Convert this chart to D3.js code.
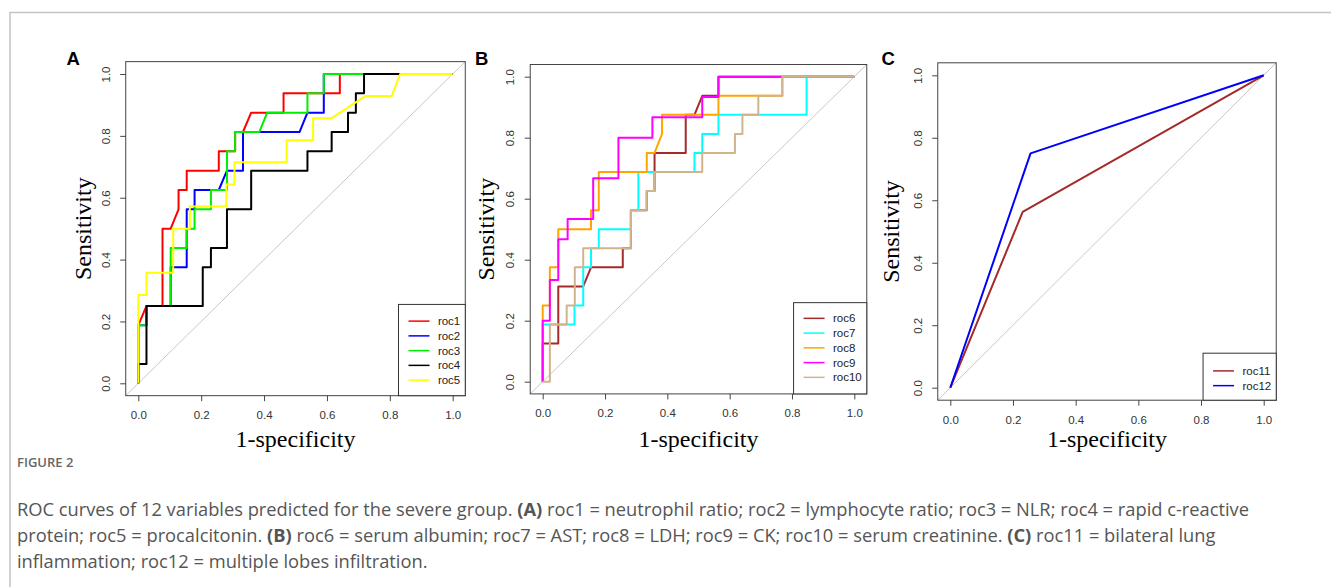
<!DOCTYPE html>
<html>
<head>
<meta charset="utf-8">
<script src="https://cdn.jsdelivr.net/npm/d3@7"></script>
<style>
body { margin: 0; background: #fff; }
</style>
</head>
<body>
<div id="figure"></div>
<script>
// ROC points, as [1-specificity, sensitivity]
const roc1 = [[0,0],[0,0.1875],[0.026,0.25],[0.077,0.25],[0.077,0.5],[0.103,0.5],[0.128,0.5625],[0.128,0.625],[0.154,0.625],[0.154,0.6875],[0.256,0.6875],[0.256,0.75],[0.308,0.75],[0.308,0.8125],[0.333,0.8125],[0.359,0.875],[0.462,0.875],[0.462,0.9375],[0.641,0.9375],[0.641,1],[1,1]];
const roc2 = [[0,0],[0,0.1875],[0.026,0.1875],[0.026,0.25],[0.103,0.25],[0.103,0.375],[0.154,0.375],[0.154,0.5625],[0.179,0.5625],[0.179,0.625],[0.256,0.625],[0.282,0.6875],[0.333,0.6875],[0.333,0.8125],[0.513,0.8125],[0.538,0.875],[0.59,0.875],[0.59,1],[1,1]];
const roc3 = [[0,0],[0,0.1875],[0.026,0.1875],[0.026,0.25],[0.103,0.25],[0.103,0.4375],[0.154,0.4375],[0.154,0.5],[0.179,0.5],[0.179,0.5625],[0.231,0.5625],[0.231,0.625],[0.282,0.625],[0.282,0.75],[0.308,0.75],[0.308,0.8125],[0.385,0.8125],[0.41,0.875],[0.538,0.875],[0.538,0.9375],[0.59,0.9375],[0.59,1],[1,1]];
const roc4 = [[0,0],[0,0.0625],[0.026,0.0625],[0.026,0.25],[0.205,0.25],[0.205,0.375],[0.231,0.375],[0.231,0.4375],[0.282,0.4375],[0.282,0.5625],[0.359,0.5625],[0.359,0.6875],[0.538,0.6875],[0.538,0.75],[0.615,0.75],[0.615,0.8125],[0.667,0.8125],[0.667,0.875],[0.692,0.875],[0.692,0.9375],[0.718,0.9375],[0.718,1],[1,1]];
const roc5 = [[0,0],[0,0.2857],[0.026,0.2857],[0.026,0.3571],[0.111,0.3571],[0.111,0.5],[0.164,0.5],[0.164,0.5714],[0.28,0.5714],[0.28,0.6429],[0.306,0.6429],[0.306,0.7143],[0.472,0.7143],[0.472,0.7857],[0.556,0.7857],[0.556,0.8571],[0.615,0.8571],[0.722,0.9286],[0.806,0.9286],[0.833,1],[1,1]];

const roc6 = [[0,0],[0,0.125],[0.05,0.125],[0.05,0.3125],[0.13,0.3125],[0.155,0.375],[0.257,0.375],[0.257,0.4375],[0.283,0.4375],[0.283,0.5625],[0.334,0.5625],[0.334,0.625],[0.359,0.625],[0.359,0.75],[0.459,0.75],[0.459,0.875],[0.487,0.875],[0.512,0.9375],[0.564,0.9375],[0.564,1],[1,1]];
const roc7 = [[0,0],[0,0.1875],[0.102,0.1875],[0.102,0.25],[0.13,0.25],[0.13,0.375],[0.155,0.375],[0.155,0.4375],[0.18,0.4375],[0.18,0.5],[0.283,0.5],[0.283,0.5625],[0.307,0.5625],[0.307,0.6875],[0.487,0.6875],[0.487,0.75],[0.512,0.75],[0.512,0.8125],[0.564,0.8125],[0.564,0.875],[0.847,0.875],[0.847,1],[1,1]];
const roc8 = [[0,0],[0,0.25],[0.023,0.25],[0.023,0.375],[0.05,0.375],[0.05,0.5],[0.155,0.5],[0.155,0.5625],[0.18,0.5625],[0.18,0.6875],[0.334,0.6875],[0.334,0.75],[0.359,0.75],[0.383,0.8125],[0.383,0.875],[0.564,0.875],[0.564,0.9375],[0.769,0.9375],[0.769,1],[1,1]];
const roc9 = [[0,0],[0,0.2],[0.023,0.2],[0.023,0.3333],[0.05,0.3333],[0.05,0.4667],[0.08,0.4667],[0.08,0.5333],[0.162,0.5333],[0.162,0.6667],[0.243,0.6667],[0.243,0.8],[0.352,0.8],[0.352,0.8667],[0.512,0.8667],[0.512,0.9333],[0.564,0.9333],[0.564,1],[1,1]];
const roc10 = [[0,0],[0.023,0],[0.023,0.1875],[0.077,0.1875],[0.077,0.25],[0.103,0.25],[0.103,0.375],[0.13,0.375],[0.13,0.4375],[0.283,0.4375],[0.283,0.5625],[0.334,0.5625],[0.334,0.625],[0.359,0.625],[0.359,0.6875],[0.512,0.6875],[0.512,0.75],[0.617,0.75],[0.617,0.8125],[0.641,0.8125],[0.641,0.875],[0.692,0.875],[0.692,0.9375],[0.769,0.9375],[0.769,1],[1,1]];

const roc11 = [[0,0],[0.231,0.5625],[1,1]];
const roc12 = [[0,0],[0.256,0.75],[1,1]];

const panelANames = ['roc1', 'roc2', 'roc3', 'roc4', 'roc5'];
const panelBNames = ['roc6', 'roc7', 'roc8', 'roc9', 'roc10'];
const panelCNames = ['roc11', 'roc12'];
const tickValues = [0, 0.2, 0.4, 0.6, 0.8, 1];

const CAPTION_TITLE = 'FIGURE 2';
const CAPTION_LINES = [
    [['ROC curves of 12 variables predicted for the severe group. ', false], ['(A)', true], [' roc1 = neutrophil ratio; roc2 = lymphocyte ratio; roc3 = NLR; roc4 = rapid c-reactive', false]],
    [['protein; roc5 = procalcitonin. ', false], ['(B)', true], [' roc6 = serum albumin; roc7 = AST; roc8 = LDH; roc9 = CK; roc10 = serum creatinine. ', false], ['(C)', true], [' roc11 = bilateral lung', false]],
    [['inflammation; roc12 = multiple lobes infiltration.', false]]
];

const CURVES = { roc1, roc2, roc3, roc4, roc5, roc6, roc7, roc8, roc9, roc10, roc11, roc12 };
const COLORS = {
    roc1: '#ff0000', roc2: '#0000ff', roc3: '#00ee00', roc4: '#000000', roc5: '#ffff00',
    roc6: '#a52a2a', roc7: '#00ffff', roc8: '#ffa500', roc9: '#ff00ff', roc10: '#d2b48c',
    roc11: '#a52a2a', roc12: '#0000ff'
};

const WIDTH = 1331;
const HEIGHT = 587;
const SANS = "'Liberation Sans', Arial, sans-serif";
const SERIF = "'Liberation Serif', 'Times New Roman', serif";

// pixel span of 0..1 on each axis, per panel
const PANELS = [
    { letter: 'A', names: panelANames, xr: [138.3, 452.7], yr: [383.3, 74], letterX: 66.5, yTitleX: 91, legendTop: 16.7 },
    { letter: 'B', names: panelBNames, xr: [542.7, 854.3], yr: [381.7, 76.7], letterX: 475, yTitleX: 494, legendTop: 15.7 },
    { letter: 'C', names: panelCNames, xr: [950.3, 1263.7], yr: [387.7, 75.3], letterX: 881.5, yTitleX: 899, legendTop: 17.7 }
];

let svg = d3.select('#figure')
    .append('svg')
    .attr('width', WIDTH)
    .attr('height', HEIGHT);

// outer frame of the figure
svg.append('path')
    .attr('d', 'M10,' + HEIGHT + 'V12.5H' + WIDTH)
    .attr('fill', 'none')
    .attr('stroke', '#c4c4c4')
    .attr('stroke-width', 1.5);

function drawPanel(panel, index) {
    let x = d3.scaleLinear().domain([0, 1]).range(panel.xr);
    let y = d3.scaleLinear().domain([0, 1]).range(panel.yr);
    let left = x(-0.04), right = x(1.04), top = y(1.04), bottom = y(-0.04);

    let g = svg.append('g');

    g.append('clipPath')
        .attr('id', 'clip' + index)
        .append('rect')
        .attr('x', left).attr('y', top)
        .attr('width', right - left).attr('height', bottom - top);

    let plot = g.append('g').attr('clip-path', 'url(#clip' + index + ')');

    // chance line
    plot.append('line')
        .attr('x1', x(-0.04)).attr('y1', y(-0.04))
        .attr('x2', x(1.04)).attr('y2', y(1.04))
        .attr('stroke', '#c8c8c8')
        .attr('stroke-width', 1);

    let line = d3.line()
        .x((d) => x(d[0]))
        .y((d) => y(d[1]));

    panel.names.forEach(function (name) {
        plot.append('path')
            .datum(CURVES[name])
            .attr('fill', 'none')
            .attr('stroke', COLORS[name])
            .attr('stroke-width', 2)
            .attr('stroke-linejoin', 'round')
            .attr('d', line);
    });

    // axes
    let xAxis = g.append('g')
        .attr('transform', 'translate(0,' + bottom + ')')
        .call(d3.axisBottom(x).tickValues(tickValues).tickFormat(d3.format('.1f')).tickSize(5.5));
    xAxis.selectAll('text').attr('y', 23.5).attr('dy', 0);

    let yAxis = g.append('g')
        .attr('transform', 'translate(' + left + ',0)')
        .call(d3.axisLeft(y).tickValues(tickValues).tickFormat(d3.format('.1f')).tickSize(5.5));
    yAxis.selectAll('text')
        .attr('x', 0).attr('dy', 0)
        .attr('text-anchor', 'middle')
        .attr('transform', 'translate(-16,0) rotate(-90)');

    g.selectAll('.domain').remove();
    g.selectAll('.tick line').attr('stroke', '#444');
    g.selectAll('.tick text')
        .attr('fill', '#333')
        .style('font-family', SANS)
        .style('font-size', '11.5px');

    g.append('rect')
        .attr('x', left).attr('y', top)
        .attr('width', right - left).attr('height', bottom - top)
        .attr('fill', 'none')
        .attr('stroke', '#444')
        .attr('stroke-width', 1);

    // axis titles
    g.append('text')
        .attr('x', (panel.xr[0] + panel.xr[1]) / 2)
        .attr('y', 446.5)
        .attr('text-anchor', 'middle')
        .style('font-family', SERIF)
        .style('font-size', '24px')
        .text('1-specificity');

    g.append('text')
        .attr('transform', 'translate(' + panel.yTitleX + ',' + (panel.yr[0] + panel.yr[1]) / 2 + ') rotate(-90)')
        .attr('text-anchor', 'middle')
        .style('font-family', SERIF)
        .style('font-size', '24px')
        .text('Sensitivity');

    g.append('text')
        .attr('x', panel.letterX)
        .attr('y', 64.5)
        .style('font-family', SANS)
        .style('font-weight', 'bold')
        .style('font-size', '18.5px')
        .text(panel.letter);

    // legend, anchored to the bottom right corner of the box
    let step = 14.75;
    let legend = g.append('g');
    let box = legend.append('rect')
        .attr('fill', '#fff')
        .attr('stroke', '#333')
        .attr('stroke-width', 1);
    let labels = legend.selectAll('text')
        .data(panel.names)
        .join('text')
        .attr('x', 39.4)
        .attr('y', (d, i) => panel.legendTop + i * step + 4)
        .attr('fill', '#222')
        .style('font-family', SANS)
        .style('font-size', '11.5px')
        .text((d) => d);
    legend.selectAll('line')
        .data(panel.names)
        .join('line')
        .attr('x1', 10).attr('x2', 31)
        .attr('y1', (d, i) => panel.legendTop + i * step)
        .attr('y2', (d, i) => panel.legendTop + i * step)
        .attr('stroke', (d) => COLORS[d])
        .attr('stroke-width', 1.5);

    let textWidth = d3.max(labels.nodes(), (n) => n.getComputedTextLength());
    let legendWidth = 39.4 + textWidth + 5;
    let legendHeight = step * panel.names.length + 17.5;
    box.attr('width', legendWidth).attr('height', legendHeight);
    legend.attr('transform', 'translate(' + (right - legendWidth) + ',' + (bottom - legendHeight) + ')');
}

PANELS.forEach(drawPanel);

// caption
svg.append('text')
    .attr('x', 17)
    .attr('y', 467)
    .attr('fill', '#666')
    .style('font-family', "'Open Sans', sans-serif")
    .style('font-size', '13px')
    .style('font-weight', 600)
    .text(CAPTION_TITLE);

CAPTION_LINES.forEach(function (parts, i) {
    let t = svg.append('text')
        .attr('x', 17)
        .attr('y', 516 + i * 26)
        .attr('fill', '#555')
        .style('font-family', "'Open Sans', sans-serif")
        .style('font-size', '18.3px');
    parts.forEach(function (p) {
        t.append('tspan')
            .style('font-weight', p[1] ? 700 : 400)
            .text(p[0]);
    });
});
</script>
</body>
</html>
